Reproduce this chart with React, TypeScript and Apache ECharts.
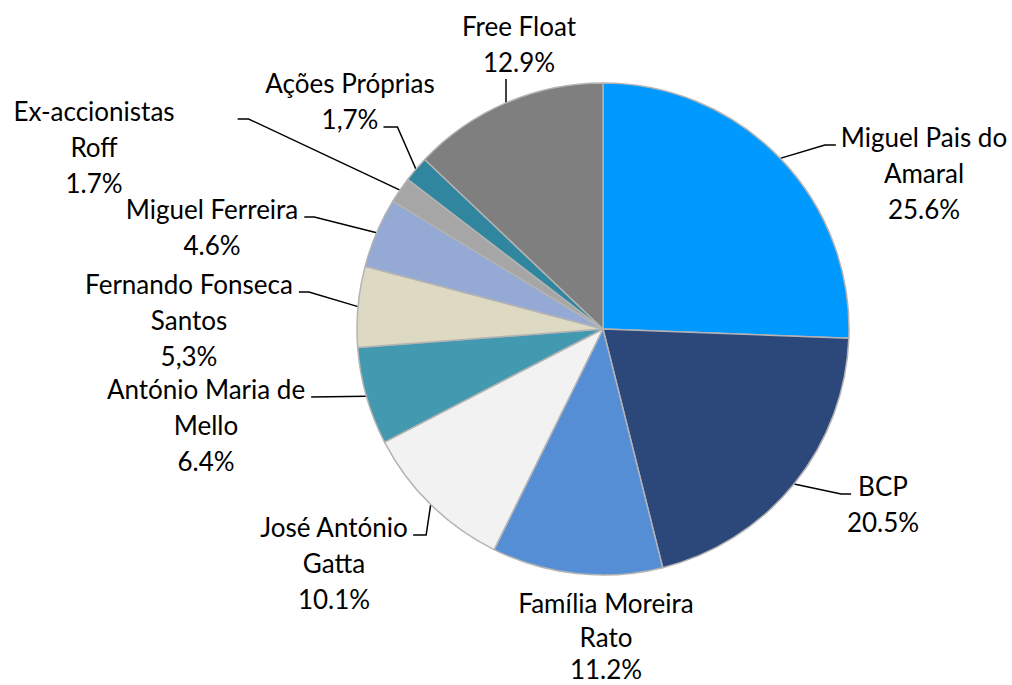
import React, { useEffect, useRef } from "react";
import * as echarts from "echarts";

// ---- data ----
const names = [
  "Miguel Pais do\nAmaral",
  "BCP",
  "Família Moreira\nRato",
  "José António\nGatta",
  "António Maria de\nMello",
  "Fernando Fonseca\nSantos",
  "Miguel Ferreira",
  "Ex-accionistas\nRoff",
  "Ações Próprias",
  "Free Float",
];
const values = [25.6, 20.5, 11.2, 10.1, 6.4, 5.3, 4.6, 1.7, 1.7, 12.9];
const pctLabels = ["25.6%", "20.5%", "11.2%", "10.1%", "6.4%", "5,3%", "4.6%", "1.7%", "1,7%", "12.9%"];

// ---- styles ----
const colors = [
  "#0099FF",
  "#2C4779",
  "#558ED5",
  "#F2F2F2",
  "#4399B0",
  "#DDD9C3",
  "#95A9D5",
  "#A6A6A6",
  "#2F869E",
  "#7F7F7F",
];

const FONT = "Lato";
const FONT_SIZE = 26;
const LINE_H = 36;

// label placement: centre x, first-line centre y, where the leader attaches
type Attach = "left" | "right" | "bottom" | "none";
const labelPlacement: {
  cx: number;
  cy: number;
  attach: Attach;
  line: number;
  gap: number;
  elbow: number;
  lhs?: number[];
}[] = [
  { cx: 924, cy: 137, attach: "left", line: 0, gap: 5, elbow: 11 },
  { cx: 883, cy: 486, attach: "left", line: 0, gap: 7, elbow: 10 },
  { cx: 606, cy: 603, attach: "none", line: 0, gap: 0, elbow: 0, lhs: [12, 56, 8] },
  { cx: 334, cy: 527, attach: "right", line: 0, gap: 5, elbow: 13 },
  { cx: 206, cy: 389, attach: "right", line: 0, gap: 6, elbow: 0 },
  { cx: 189, cy: 284, attach: "right", line: 0, gap: 6, elbow: 10 },
  { cx: 212, cy: 209, attach: "right", line: 0, gap: 6, elbow: 10 },
  { cx: 94, cy: 111, attach: "right", line: 0, gap: 63, elbow: 11 },
  { cx: 350, cy: 83, attach: "right", line: 1, gap: 5, elbow: 14 },
  { cx: 519, cy: 26, attach: "bottom", line: 0, gap: 17, elbow: 0 },
];

export default function App() {
  const ref = useRef<HTMLDivElement>(null);

  useEffect(() => {
    if (!ref.current) return;
    const chart = echarts.init(ref.current, undefined, { renderer: "svg" });

    const canvas = document.createElement("canvas");
    const ctx = canvas.getContext("2d")!;
    ctx.font = `${FONT_SIZE}px ${FONT}`;
    const measure = (s: string) => ctx.measureText(s).width;

    const textLines = (i: number) => `${names[i]}\n${pctLabels[i]}`.split("\n");

    const data = names.map((n, i) => {
      const L = labelPlacement[i];
      const item: any = {
        name: n,
        value: values[i],
        itemStyle: { color: colors[i] },
        labelLine: { show: L.attach !== "none" },
      };
      if (L.lhs) {
        const rich: any = {};
        L.lhs.forEach((lh, k) => {
          rich["l" + k] = { fontFamily: FONT, fontSize: FONT_SIZE, color: "#000000", lineHeight: lh, align: "center" };
        });
        item.label = {
          rich,
          formatter: () => textLines(i).map((t, k) => `{l${k}|${t}}`).join("\n"),
        };
      }
      return item;
    });

    chart.setOption({
      animation: false,
      backgroundColor: "#ffffff",
      series: [
        {
          type: "pie",
          center: [603, 329],
          radius: 246,
          startAngle: 90,
          clockwise: true,
          avoidLabelOverlap: false,
          data,
          itemStyle: { borderColor: "#B3B3B3", borderWidth: 1.5 },
          label: {
            show: true,
            position: "outside",
            color: "#000000",
            fontFamily: FONT,
            fontSize: FONT_SIZE,
            lineHeight: LINE_H,
            align: "center",
            formatter: (p: any) => `${p.name}\n${pctLabels[p.dataIndex]}`,
          },
          labelLine: {
            show: true,
            length: 20,
            length2: 10,
            lineStyle: { color: "#000000", width: 1.5 },
          },
          emphasis: { disabled: true },
          labelLayout: (p: any) => {
            const i = p.dataIndex;
            const L = labelPlacement[i];
            const firstLh = L.lhs ? L.lhs[0] : LINE_H;
            const lines = textLines(i);
            const res: any = {
              x: L.cx,
              y: L.cy - firstLh / 2,
              align: "center",
              verticalAlign: "top",
            };
            const pts = p.labelLinePoints;
            if (L.attach === "none" || !pts || !pts.length) return res;
            const start = pts[0];
            if (L.attach === "bottom") {
              const endY = L.cy + (lines.length - 1) * LINE_H + L.gap;
              res.labelLinePoints = [start, [start[0], (start[1] + endY) / 2], [start[0], endY]];
            } else {
              const w = measure(lines[L.line]);
              const y = L.cy + L.line * LINE_H + 8;
              const sign = L.attach === "left" ? -1 : 1;
              const endX = L.cx + sign * (w / 2 + L.gap);
              res.labelLinePoints = [start, [endX + sign * L.elbow, y], [endX, y]];
            }
            return res;
          },
        },
      ],
    });

    return () => chart.dispose();
  }, []);

  return (
    <div
      ref={ref}
      style={{ position: "absolute", left: 0, top: 0, width: 1012, height: 685, background: "#fff" }}
    />
  );
}
